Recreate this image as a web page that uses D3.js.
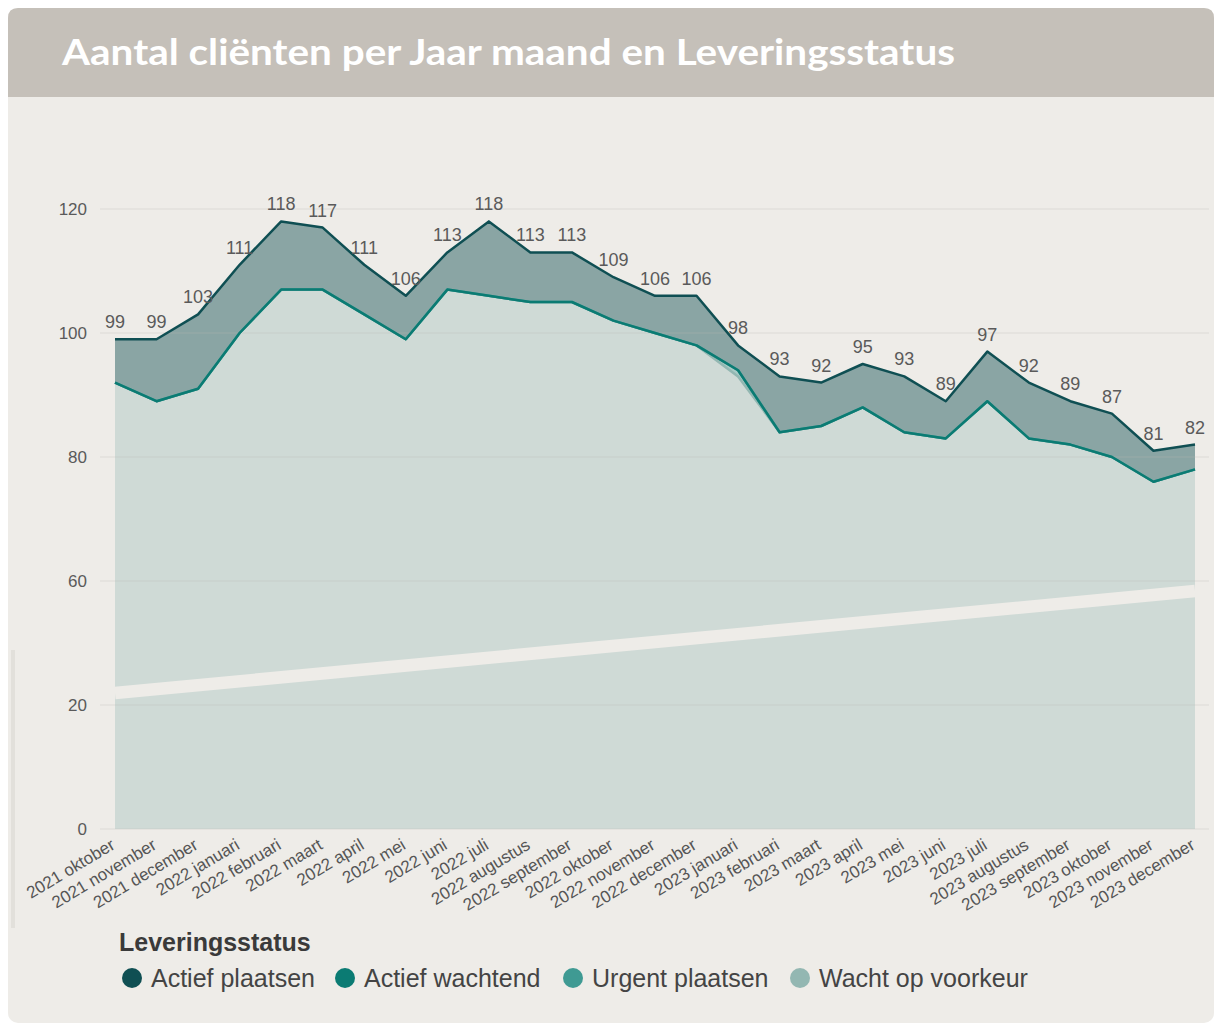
<!DOCTYPE html>
<html>
<head>
<meta charset="utf-8">
<script src="https://cdn.jsdelivr.net/npm/d3@7"></script>
<style>
  body { margin: 0; background: #ffffff; }
  svg { display: block; }
</style>
</head>
<body>
<svg id="viz"></svg>
<script>
var months = [
  '2021 oktober', '2021 november', '2021 december',
  '2022 januari', '2022 februari', '2022 maart', '2022 april', '2022 mei', '2022 juni',
  '2022 juli', '2022 augustus', '2022 september', '2022 oktober', '2022 november', '2022 december',
  '2023 januari', '2023 februari', '2023 maart', '2023 april', '2023 mei', '2023 juni',
  '2023 juli', '2023 augustus', '2023 september', '2023 oktober', '2023 november', '2023 december'
];

// totals shown as data labels
var totals = [99, 99, 103, 111, 118, 117, 111, 106, 113, 118, 113, 113, 109, 106, 106,
  98, 93, 92, 95, 93, 89, 97, 92, 89, 87, 81, 82];

var wachtOpVoorkeur = [92, 89, 91, 100, 107, 107, 103, 99, 107, 106, 105, 105, 102, 100, 98,
  93, 84, 85, 88, 84, 83, 89, 83, 82, 80, 76, 78];
var urgentPlaatsen = [0, 0, 0, 0, 0, 0, 0, 0, 0, 0, 0, 0, 0, 0, 0,
  1, 0, 0, 0, 0, 0, 0, 0, 0, 0, 0, 0];
var actiefWachtend = [0, 0, 0, 0, 0, 0, 0, 0, 0, 0, 0, 0, 0, 0, 0,
  0, 0, 0, 0, 0, 0, 0, 0, 0, 0, 0, 0];
var actiefPlaatsen = [7, 10, 12, 11, 11, 10, 8, 7, 6, 12, 8, 8, 7, 6, 8,
  4, 9, 7, 7, 9, 6, 8, 9, 7, 7, 5, 4];

var legendNames = ['Actief plaatsen', 'Actief wachtend', 'Urgent plaatsen', 'Wacht op voorkeur'];
var yTicks = [0, 20, 60, 80, 100, 120];

var width = 1215;
var height = 1026;
var bg = '#eeece8';
var colors = {
  'Actief plaatsen': '#0f4f53',
  'Actief wachtend': '#0b7b73',
  'Urgent plaatsen': '#3f9a93',
  'Wacht op voorkeur': '#93b7b2'
};
var fillOpacity = {
  'Actief plaatsen': 0.45,
  'Actief wachtend': 0.4,
  'Urgent plaatsen': 0.4,
  'Wacht op voorkeur': 0.33
};

// stack from bottom to top
var stackOrder = ['Wacht op voorkeur', 'Urgent plaatsen', 'Actief wachtend', 'Actief plaatsen'];
var seriesValues = {
  'Wacht op voorkeur': wachtOpVoorkeur,
  'Urgent plaatsen': urgentPlaatsen,
  'Actief wachtend': actiefWachtend,
  'Actief plaatsen': actiefPlaatsen
};

var rows = months.map(function (m, i) {
  var r = { month: m };
  stackOrder.forEach(function (k) { r[k] = seriesValues[k][i]; });
  return r;
});

var stacked = d3.stack().keys(stackOrder)(rows);

var svg = d3.select('#viz').attr('width', width).attr('height', height)
  .style('font-family', 'Arial, "Liberation Sans", sans-serif');

// card with header
svg.append('rect')
  .attr('x', 8).attr('y', 8).attr('width', 1206).attr('height', 1015)
  .attr('rx', 10).attr('fill', bg);
svg.append('path')
  .attr('d', 'M8,97 V18 Q8,8 18,8 H1204 Q1214,8 1214,18 V97 Z')
  .attr('fill', '#c5c0b9');
svg.append('text')
  .attr('x', 62).attr('y', 65)
  .attr('textLength', 893).attr('lengthAdjust', 'spacingAndGlyphs')
  .style('font-family', 'Lato, "Open Sans", sans-serif')
  .style('font-weight', 700)
  .style('font-size', '37px')
  .attr('fill', '#ffffff')
  .text('Aantal cliënten per Jaar maand en Leveringsstatus');

// faint vertical edge on the left
svg.append('rect')
  .attr('x', 11).attr('y', 650).attr('width', 4).attr('height', 278)
  .attr('fill', '#e2e0db');

var x = d3.scalePoint().domain(months).range([115, 1195]);
// the axis is broken between 20 and 60
var y = d3.scaleLinear().domain([0, 20, 60, 120]).range([829, 705, 581, 209]);

var area = d3.area()
  .x(function (d) { return x(d.data.month); })
  .y0(function (d) { return y(d[0]); })
  .y1(function (d) { return y(d[1]); });

var line = d3.line()
  .x(function (d) { return x(d.data.month); })
  .y(function (d) { return y(d[1]); });

var plot = svg.append('g');

plot.selectAll('path.area')
  .data(stacked)
  .enter()
  .append('path')
  .attr('class', 'area')
  .attr('d', area)
  .attr('fill', function (d) { return colors[d.key]; })
  .attr('fill-opacity', function (d) { return fillOpacity[d.key]; });

// gridlines
plot.selectAll('line.grid')
  .data(yTicks)
  .enter()
  .append('line')
  .attr('class', 'grid')
  .attr('x1', 100).attr('x2', 1209)
  .attr('y1', function (d) { return y(d); })
  .attr('y2', function (d) { return y(d); })
  .attr('stroke', '#b9b7b2')
  .attr('stroke-opacity', 0.35)
  .attr('stroke-width', 1.2);

// break band
plot.append('path')
  .attr('d', 'M' + x(months[0]) + ',693 L' + x(months[months.length - 1]) + ',591')
  .attr('stroke', bg)
  .attr('stroke-width', 12.5)
  .attr('fill', 'none');

plot.selectAll('path.line')
  .data(stacked)
  .enter()
  .append('path')
  .attr('class', 'line')
  .attr('d', line)
  .attr('fill', 'none')
  .attr('stroke', function (d) { return colors[d.key]; })
  .attr('stroke-width', 2.5)
  .attr('stroke-linejoin', 'round');

// y tick labels
svg.selectAll('text.ytick')
  .data(yTicks)
  .enter()
  .append('text')
  .attr('class', 'ytick')
  .attr('x', 87)
  .attr('y', function (d) { return y(d); })
  .attr('dy', '0.35em')
  .attr('text-anchor', 'end')
  .attr('fill', '#5a5a5a')
  .style('font-size', '17px')
  .text(function (d) { return d; });

// x tick labels
svg.selectAll('text.xtick')
  .data(months)
  .enter()
  .append('text')
  .attr('class', 'xtick')
  .attr('transform', function (d) {
    return 'translate(' + (x(d) + 1) + ',848) rotate(-31)';
  })
  .attr('text-anchor', 'end')
  .attr('fill', '#555555')
  .style('font-size', '17px')
  .text(function (d) { return d; });

// total labels
svg.selectAll('text.total')
  .data(totals)
  .enter()
  .append('text')
  .attr('class', 'total')
  .attr('x', function (d, i) { return x(months[i]); })
  .attr('y', function (d) { return y(d) - 11; })
  .attr('text-anchor', 'middle')
  .attr('fill', '#5a5a5a')
  .style('font-size', '18px')
  .text(function (d) { return d; });

// legend
svg.append('text')
  .attr('x', 119).attr('y', 951)
  .attr('fill', '#3a3a3a')
  .style('font-size', '25px')
  .style('font-weight', 700)
  .text('Leveringsstatus');

var legendX = [132, 345, 573, 800];
var legend = svg.selectAll('g.legend')
  .data(legendNames)
  .enter()
  .append('g')
  .attr('class', 'legend')
  .attr('transform', function (d, i) { return 'translate(' + legendX[i] + ',978)'; });

legend.append('circle')
  .attr('r', 10)
  .attr('fill', function (d) { return colors[d]; });

legend.append('text')
  .attr('x', 19)
  .attr('y', 9)
  .attr('fill', '#444444')
  .style('font-size', '25px')
  .text(function (d) { return d; });
</script>
</body>
</html>
